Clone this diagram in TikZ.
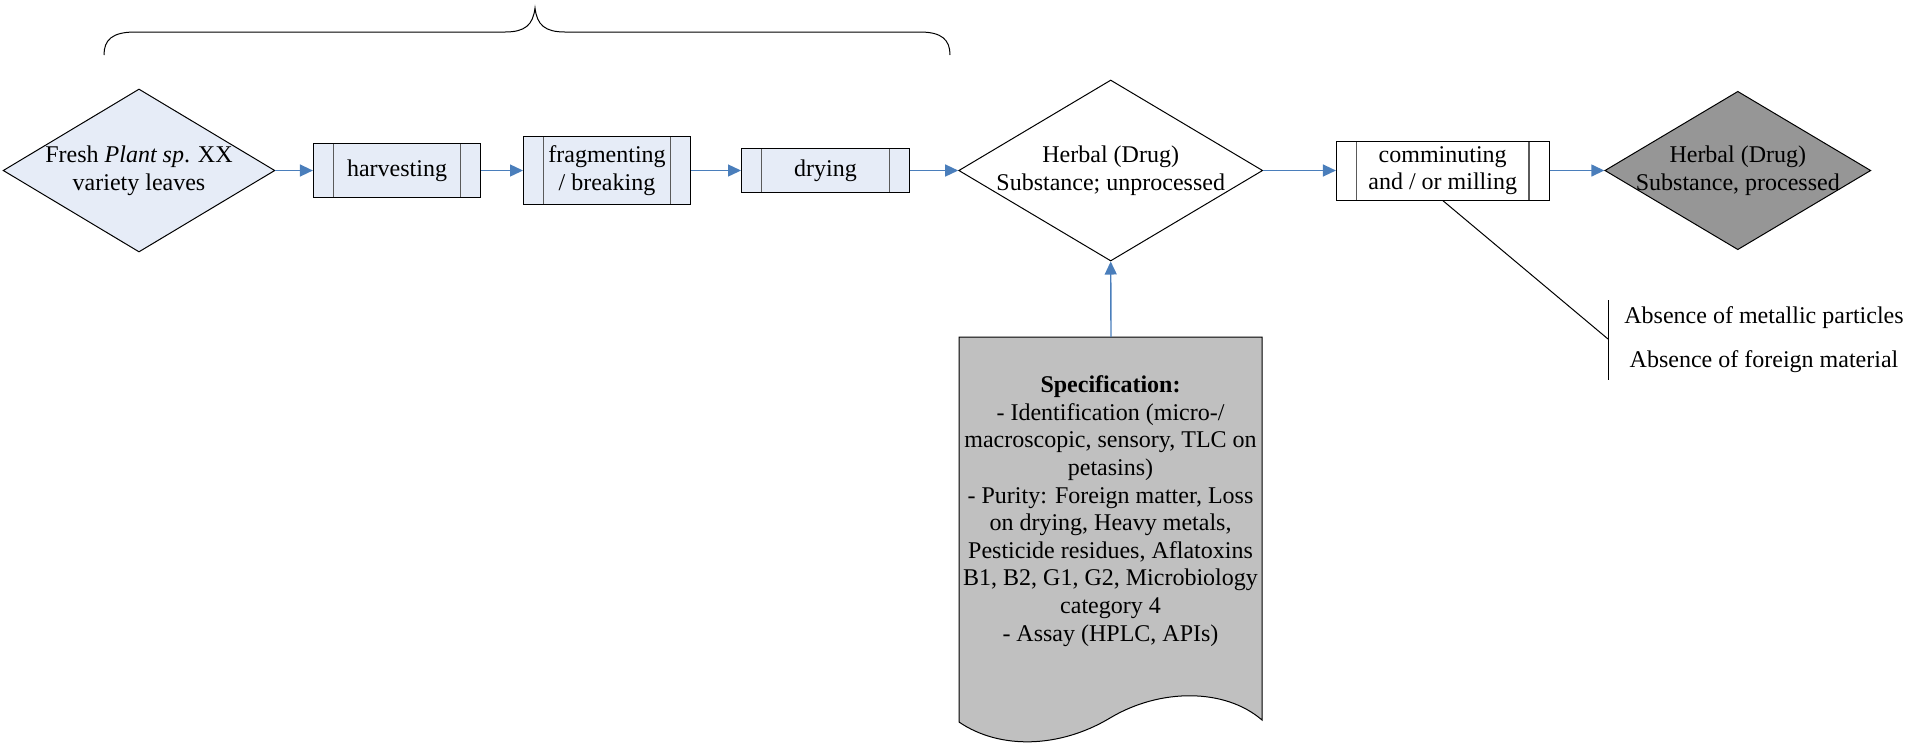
\documentclass[tikz,border=0pt]{standalone}
\usepackage{fontspec}
\setmainfont{Liberation Serif}
\usetikzlibrary{shapes.geometric,arrows.meta}
\definecolor{lightfill}{RGB}{230,236,247}
\definecolor{darkdia}{RGB}{150,150,150}
\definecolor{docgray}{RGB}{192,192,192}
\definecolor{flowblue}{RGB}{74,126,187}
\definecolor{innerline}{RGB}{90,90,90}
\begin{document}
\begin{tikzpicture}[x=0.5pt,y=-0.5pt,font=\fontsize{12}{13.8}\selectfont,
  procbox/.style={draw=black, line width=0.5pt, inner sep=0pt, align=center,
    path picture={\draw[innerline,line width=0.6pt]
      ([xshift=10pt]path picture bounding box.north west) -- ([xshift=10pt]path picture bounding box.south west)
      ([xshift=-10pt]path picture bounding box.north east) -- ([xshift=-10pt]path picture bounding box.south east);}},
  dia/.style={shape=diamond, draw=black, line width=0.5pt, inner sep=0pt},
  flow/.style={draw=flowblue, line width=0.7pt, -{Triangle[length=6.5pt,width=6pt]}},
  thinline/.style={draw=black, line width=0.5pt}]
\useasboundingbox (0,0) rectangle (1905,746);

% brace
\draw[thinline] (104,55) .. controls (104,40) and (112,32) .. (135,32) -- (505,32)
  .. controls (525,32) and (533,25) .. (535,8)
  .. controls (537,25) and (545,32) .. (565,32) -- (920,32)
  .. controls (942,32) and (950,40) .. (950,55);

% main row
\node[dia, fill=lightfill, minimum width=135.9pt, minimum height=81.5pt,
  label={[align=center]center:Fresh \textit{Plant sp}. XX\\variety leaves}] (d1) at (139,170.5) {};
\node[procbox, fill=lightfill, minimum width=83.6pt, minimum height=26.6pt] (harv) at (397,170.5) {harvesting};
\node[procbox, fill=lightfill, minimum width=83.5pt, minimum height=33.6pt] (frag) at (607,170.5) {fragmenting\\/ breaking};
\node[procbox, fill=lightfill, minimum width=84pt, minimum height=22.2pt] (dry) at (825.5,170.5) {drying};
\node[dia, fill=white, minimum width=152pt, minimum height=90.5pt,
  label={[align=center]center:Herbal (Drug)\\Substance; unprocessed}] (d2) at (1110.7,170.5) {};
\node[procbox, fill=white, minimum width=106.3pt, minimum height=29.5pt] (comm) at (1442.7,170.5) {comminuting\\and / or milling};
\node[dia, fill=darkdia, minimum width=133pt, minimum height=79.2pt,
  label={[align=center]center:Herbal (Drug)\\Substance, processed}] (d3) at (1737.8,170.5) {};

\draw[flow] (d1.east) -- (harv.west);
\draw[flow] (harv.east) -- (frag.west);
\draw[flow] (frag.east) -- (dry.west);
\draw[flow] (dry.east) -- (d2.west);
\draw[flow] (d2.east) -- (comm.west);
\draw[flow] (comm.east) -- (d3.west);

% specification document
\path[draw=black, line width=0.5pt, fill=docgray] (959,337) -- (1262,337) -- (1262,720)
  .. controls (1225,688) and (1160,688) .. (1110,718)
  .. controls (1060,748) and (1000,750) .. (959,722) -- cycle;
\node[align=center] (spec) at (1110.5,511) {\textbf{Specification:}\\- Identification (micro-/\\macroscopic, sensory, TLC on\\petasins)\\- Purity: Foreign matter, Loss\\on drying, Heavy metals,\\Pesticide residues, Aflatoxins\\B1, B2, G1, G2, Microbiology\\category 4\\- Assay (HPLC, APIs)};
\coordinate (spectop) at (1111,337);
\draw[flow] (spectop) -- (d2.south);

% callout
\coordinate (co) at (1608,339);
\coordinate (bt) at (1608,300);
\coordinate (bb) at (1608,380);
\draw[thinline] (comm.south) -- (co);
\draw[thinline] (bt) -- (bb);
\node (ab1) at (1764,318) {Absence of metallic particles};
\node (ab2) at (1764,362) {Absence of foreign material};
\end{tikzpicture}
\end{document}
